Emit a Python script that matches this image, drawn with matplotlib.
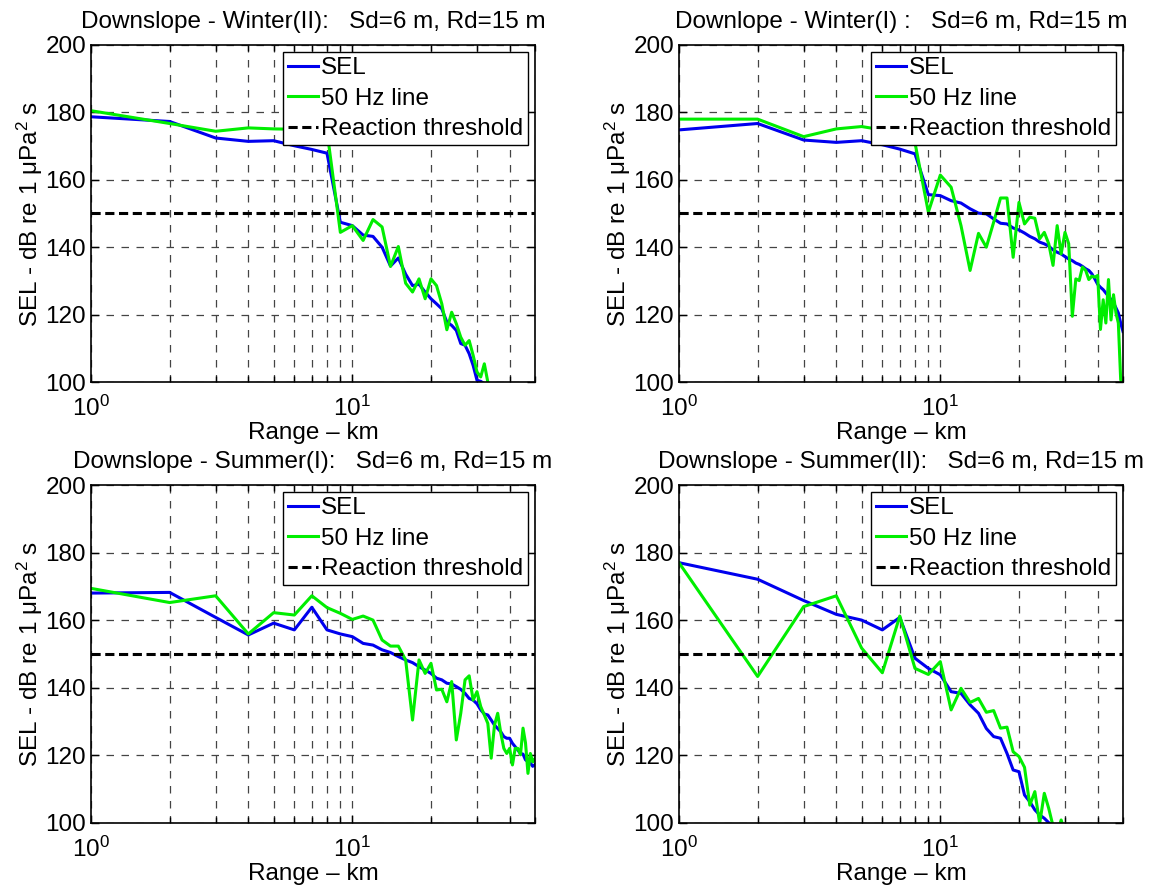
import matplotlib
matplotlib.use('Agg')

import matplotlib.pyplot as plt
from matplotlib.ticker import LogLocator, NullFormatter

plt.rcParams['font.family'] = ['Liberation Sans', 'DejaVu Sans']
plt.rcParams['mathtext.fontset'] = 'custom'
plt.rcParams['mathtext.rm'] = 'Liberation Sans'
plt.rcParams['mathtext.it'] = 'Liberation Sans:italic'

# ranges in km (1 km steps)
range_w2 = list(range(1, 34))
sel_w2 = [178.7, 177.3, 172.4, 171.4, 171.6, 170.1, 169.0, 167.9, 147.4, 146.4,
          143.6, 143.2, 140.0, 134.4, 136.8, 132.0, 128.6, 129.0, 126.7, 124.7,
          123.2, 121.7, 117.8, 116.8, 115.3, 111.4, 110.9, 108.4, 104.9, 100.5,
          100.2, 99.5, 99.0]
line_w2 = [180.5, 176.7, 174.4, 175.4, 175.1, 175.0, 175.5, 174.5, 144.4, 146.4,
           142.0, 148.2, 146.0, 134.3, 140.2, 129.3, 126.7, 130.6, 124.7, 130.6,
           128.6, 123.2, 115.5, 120.7, 117.3, 113.3, 110.9, 112.3, 107.9, 103.0,
           101.5, 105.4, 100.0]

range_w1 = list(range(1, 51))
sel_w1 = [174.8, 176.7, 171.8, 171.1, 171.6, 170.4, 169.1, 167.7, 155.6, 155.3,
          153.8, 153.1, 151.4, 150.1, 149.9, 148.4, 147.1, 146.9, 145.7, 145.1,
          144.2, 143.2, 142.5, 141.5, 141.0, 140.3, 139.2, 138.5, 138.0, 137.2,
          136.5, 136.0, 135.3, 134.9, 134.3, 133.6, 133.1, 132.1, 130.6, 129.0,
          128.1, 127.4, 126.4, 125.4, 124.5, 123.5, 122.0, 120.5, 117.5, 115.0]
line_w1 = [178.0, 178.0, 172.8, 175.1, 175.8, 174.8, 175.5, 171.0, 150.4, 161.4,
           157.8, 146.4, 133.1, 144.1, 140.0, 147.4, 154.6, 154.6, 137.0, 153.3,
           146.9, 148.9, 148.6, 142.5, 144.4, 141.0, 134.6, 146.4, 138.0, 144.4,
           141.0, 119.5, 130.6, 130.1, 134.1, 133.1, 130.4, 131.4, 131.1, 131.6,
           115.6, 124.4, 117.5, 130.4, 118.4, 125.9, 120.5, 117.5, 100.7, 99.0]

range_s1 = list(range(1, 51))
sel_s1 = [168.0, 168.2, 160.8, 155.6, 159.1, 157.1, 163.8, 157.1, 155.9, 155.1,
          153.1, 152.6, 151.2, 150.4, 149.2, 148.2, 147.4, 146.2, 145.2, 144.2,
          142.8, 142.3, 141.3, 141.1, 140.3, 139.5, 138.3, 136.8, 136.3, 135.2,
          133.4, 132.2, 131.9, 130.4, 128.9, 127.9, 126.9, 125.5, 125.0, 125.0,
          123.5, 122.5, 121.5, 120.5, 120.3, 118.6, 118.1, 117.7, 116.7, 117.2]
line_s1 = [169.4, 165.2, 167.2, 155.9, 162.2, 161.5, 167.2, 163.7, 162.0, 160.2,
           161.2, 160.0, 154.1, 152.3, 152.3, 148.2, 130.4, 148.2, 144.2, 147.2,
           139.3, 139.5, 135.8, 141.8, 124.5, 132.4, 142.3, 143.5, 136.3, 138.8,
           134.4, 131.9, 129.4, 119.1, 128.9, 132.4, 126.5, 122.0, 120.5, 122.0,
           117.1, 122.0, 122.0, 120.1, 128.0, 123.6, 114.6, 120.5, 118.0, 119.0]

range_s2 = list(range(1, 31))
sel_s2 = [177.0, 172.1, 165.8, 161.7, 160.0, 157.1, 160.8, 148.7, 145.7, 143.8,
          138.8, 138.3, 134.9, 132.4, 127.9, 125.5, 125.0, 120.5, 115.6, 115.1,
          108.2, 106.2, 103.8, 102.3, 101.3, 100.0, 99.0, 98.5, 98.0, 97.5]
line_s2 = [177.0, 143.3, 164.0, 167.2, 151.7, 144.4, 161.2, 145.7, 143.9, 147.7,
           133.4, 139.8, 135.6, 136.8, 132.7, 133.2, 128.0, 128.3, 121.0, 119.6,
           116.4, 105.2, 109.2, 99.8, 108.7, 104.2, 99.0, 97.0, 100.8, 97.0]

threshold = 150

panels = [
    ('Downslope - Winter(II):   Sd=6 m, Rd=15 m', range_w2, sel_w2, line_w2),
    ('Downlope - Winter(I) :   Sd=6 m, Rd=15 m', range_w1, sel_w1, line_w1),
    ('Downslope - Summer(I):   Sd=6 m, Rd=15 m', range_s1, sel_s1, line_s1),
    ('Downslope - Summer(II):   Sd=6 m, Rd=15 m', range_s2, sel_s2, line_s2),
]

positions = [
    [0.0791, 0.5703, 0.3861, 0.3791],
    [0.5904, 0.5703, 0.3861, 0.3791],
    [0.0791, 0.0746, 0.3861, 0.3798],
    [0.5904, 0.0746, 0.3861, 0.3798],
]

fs = 17.5
fig = plt.figure(figsize=(11.5, 8.89), dpi=100)

for (title, rng, sel, line50), pos in zip(panels, positions):
    ax = fig.add_axes(pos)
    ax.plot(rng, sel, color='#0000ee', lw=2.2, label='SEL')
    ax.plot(rng, line50, color='#00ee00', lw=2.2, label='50 Hz line')
    ax.axhline(threshold, color='black', lw=2.2, ls=(0, (3, 1.5)),
               label='Reaction threshold')
    ax.set_xscale('log')
    ax.set_xlim(1, 50)
    ax.set_ylim(100, 200)
    ax.set_yticks(range(100, 201, 20))
    ax.xaxis.set_major_locator(LogLocator(base=10, numticks=10))
    ax.xaxis.set_minor_locator(LogLocator(base=10, subs=range(2, 10), numticks=20))
    ax.xaxis.set_minor_formatter(NullFormatter())
    ax.grid(True, which='both', axis='x', color='#444444', ls=(0, (6, 6)), lw=0.9)
    ax.grid(True, which='major', axis='y', color='#444444', ls=(0, (6, 6)), lw=0.9)
    ax.tick_params(which='both', direction='in', top=True, right=True,
                   labelsize=fs, width=1)
    ax.tick_params(axis='x', which='major', pad=10)
    ax.tick_params(which='major', length=6)
    ax.tick_params(which='minor', length=4)
    for s in ax.spines.values():
        s.set_linewidth(1.2)
    ax.set_title(title, fontsize=fs, pad=12)
    ax.set_xlabel('Range \u2013 km', fontsize=fs, labelpad=1)
    ax.set_ylabel('SEL - dB re 1 \u03bcPa$^2$ s', fontsize=fs, labelpad=0)
    leg = ax.legend(loc='upper right', fontsize=fs, handlelength=1.25,
                    handletextpad=0.1, borderpad=0.2, labelspacing=0.35,
                    borderaxespad=0.3, fancybox=False, framealpha=1)
    leg.get_frame().set_edgecolor('black')
    leg.get_frame().set_linewidth(1.0)

fig.savefig('out.png', dpi=100)
